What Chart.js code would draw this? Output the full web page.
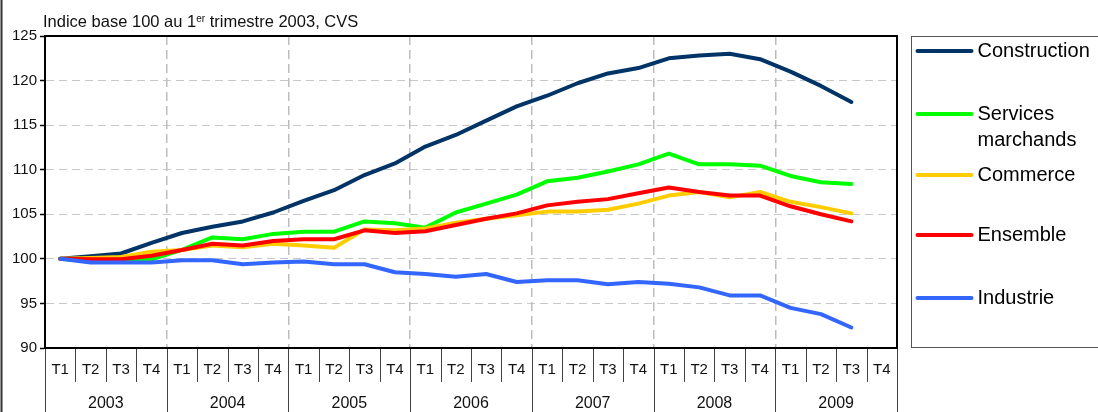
<!DOCTYPE html>
<html lang="fr">
<head>
<meta charset="UTF-8">
<title>Indice base 100 au 1er trimestre 2003</title>
<script src="https://cdn.jsdelivr.net/npm/chart.js@4.4.1/dist/chart.umd.min.js"></script>
<style>
    html, body { margin: 0; padding: 0; background: #fff; }
    canvas { display: block; }
</style>
</head>
<body>
<canvas id="chart" width="1098" height="412"></canvas>
<script>
// Données
const years = ['2003', '2004', '2005', '2006', '2007', '2008', '2009'];
const quarters = ['T1', 'T2', 'T3', 'T4'];
const quarterLabels = years.flatMap(() => quarters);

const yTicks = [90, 95, 100, 105, 110, 115, 120, 125];

const construction = [100, 100.3, 100.6, 101.8, 102.9, 103.6, 104.2, 105.2,
    106.5, 107.7, 109.4, 110.7, 112.6, 113.9, 115.5, 117.1,
    118.3, 119.7, 120.8, 121.4, 122.5, 122.8, 123.0, 122.4,
    121.0, 119.4, 117.6];
const services = [100, 99.8, 99.85, 99.95, 101.0, 102.4, 102.2, 102.8,
    103.05, 103.05, 104.2, 104.0, 103.5, 105.2, 106.2, 107.2,
    108.7, 109.1, 109.8, 110.6, 111.8, 110.6, 110.6, 110.45,
    109.3, 108.6, 108.4];
const commerce = [100, 100.1, 100.2, 100.8, 101.0, 101.5, 101.3, 101.7,
    101.5, 101.25, 103.3, 103.2, 103.4, 104.05, 104.5, 104.9,
    105.3, 105.3, 105.5, 106.2, 107.1, 107.5, 106.9, 107.5,
    106.4, 105.8, 105.1];
const ensemble = [100, 99.95, 99.95, 100.35, 101.0, 101.7, 101.5, 102.0,
    102.2, 102.2, 103.2, 102.9, 103.1, 103.8, 104.5, 105.1,
    106.0, 106.4, 106.7, 107.35, 108.0, 107.5, 107.1, 107.1,
    105.9, 105.0, 104.2];
const industrie = [100, 99.6, 99.6, 99.6, 99.85, 99.85, 99.4, 99.6,
    99.7, 99.4, 99.4, 98.5, 98.3, 98.0, 98.3, 97.4,
    97.6, 97.6, 97.15, 97.4, 97.2, 96.8, 95.9, 95.9,
    94.5, 93.8, 92.3];

const seriesNames = ['Construction', 'Services marchands', 'Commerce', 'Ensemble', 'Industrie'];
const seriesData = [construction, services, commerce, ensemble, industrie];
const seriesColors = ['#003366', '#00ff00', '#ffcc00', '#ff0000', '#3366ff'];

const FONT = "'Liberation Sans', Arial, sans-serif";
Chart.defaults.font.family = FONT;
Chart.defaults.color = '#111';

// titre avec exposant
const titlePlugin = {
    id: 'titre',
    afterDraw(chart) {
        const ctx = chart.ctx;
        const x0 = chart.chartArea.left - 2;
        const y0 = 27;
        ctx.save();
        ctx.fillStyle = '#111';
        ctx.textBaseline = 'alphabetic';
        ctx.font = '16.5px ' + FONT;
        let x = x0;
        ctx.fillText('Indice base 100 au 1', x, y0);
        x += ctx.measureText('Indice base 100 au 1').width;
        ctx.font = '10px ' + FONT;
        ctx.fillText('er', x, y0 - 5);
        x += ctx.measureText('er').width;
        ctx.font = '16.5px ' + FONT;
        ctx.fillText(' trimestre 2003, CVS', x, y0);
        ctx.restore();
    }
};

// cadre, séparateurs de l'axe et légende
const framePlugin = {
    id: 'cadre',
    afterDraw(chart) {
        const {ctx, chartArea: a, height} = chart;
        const n = quarterLabels.length;
        const step = (a.right - a.left) / n;
        ctx.save();

        ctx.strokeStyle = '#404040';
        ctx.lineWidth = 1;
        for (let i = 0; i <= n; i++) {
            const x = Math.round(a.left + i * step) + 0.5;
            ctx.beginPath();
            ctx.moveTo(x, a.bottom);
            ctx.lineTo(x, i % 4 === 0 ? height : a.bottom + 34);
            ctx.stroke();
        }

        ctx.strokeStyle = '#000';
        ctx.lineWidth = 2;
        ctx.strokeRect(a.left, a.top, a.right - a.left, a.bottom - a.top);

        ctx.strokeStyle = '#333';
        ctx.beginPath();
        ctx.moveTo(1.5, 0);
        ctx.lineTo(1.5, height);
        ctx.stroke();

        // légende
        const lx = a.right + 14.5;
        ctx.strokeStyle = '#555';
        ctx.lineWidth = 1;
        ctx.strokeRect(lx, a.top + 0.5, chart.width - lx + 5, a.bottom - a.top - 1);

        const rowY = [51, 114, 175, 235, 298];
        const textX = lx + 66;
        const maxW = chart.width - textX - 2;
        ctx.font = '20px ' + FONT;
        ctx.fillStyle = '#000';
        ctx.textBaseline = 'middle';
        chart.data.datasets.forEach((ds, k) => {
            const y = rowY[k];
            ctx.strokeStyle = ds.borderColor;
            ctx.lineWidth = 4;
            ctx.lineCap = 'round';
            ctx.beginPath();
            ctx.moveTo(lx + 6, y);
            ctx.lineTo(lx + 60, y);
            ctx.stroke();
            // retour à la ligne simple
            const words = ds.label.split(' ');
            const lines = [];
            let cur = '';
            words.forEach(w => {
                const t = cur ? cur + ' ' + w : w;
                if (cur && ctx.measureText(t).width > maxW) {
                    lines.push(cur);
                    cur = w;
                } else {
                    cur = t;
                }
            });
            lines.push(cur);
            lines.forEach((l, j) => ctx.fillText(l, textX, y + j * 26));
        });
        ctx.restore();
    }
};

new Chart(document.getElementById('chart').getContext('2d'), {
    type: 'line',
    data: {
        labels: quarterLabels,
        datasets: seriesNames.map((name, k) => ({
            label: name,
            data: seriesData[k],
            borderColor: seriesColors[k],
            backgroundColor: seriesColors[k],
            borderWidth: 4,
            borderCapStyle: 'round',
            borderJoinStyle: 'round',
            pointRadius: 0,
            tension: 0,
            order: seriesNames.length - 1 - k
        }))
    },
    options: {
        responsive: false,
        animation: false,
        layout: { padding: { left: 0, right: 201, top: 36, bottom: 0 } },
        plugins: {
            legend: { display: false },
            tooltip: { enabled: false }
        },
        scales: {
            y: {
                min: 90,
                max: 125,
                afterBuildTicks: s => { s.ticks = yTicks.map(v => ({ value: v })); },
                afterFit: s => { s.width = 45; },
                ticks: { padding: 3, font: { size: 15 }, color: '#111' },
                grid: {
                    color: '#c8c8c8',
                    lineWidth: 1,
                    tickColor: '#000',
                    tickLength: 5,
                    tickWidth: 1.5
                },
                border: { color: '#000', width: 2, dash: [8, 5] }
            },
            x: {
                offset: true,
                afterFit: s => { s.height = 34; },
                ticks: { autoSkip: false, maxRotation: 0, padding: 13, font: { size: 15 }, color: '#111' },
                grid: { display: false, drawTicks: false, offset: true },
                border: { color: '#000', width: 2 }
            },
            x2: {
                type: 'category',
                position: 'bottom',
                labels: years,
                offset: true,
                afterFit: s => { s.height = 30; },
                ticks: { autoSkip: false, maxRotation: 0, padding: 12, font: { size: 16 }, color: '#111' },
                grid: {
                    drawTicks: false,
                    drawOnChartArea: true,
                    offset: true,
                    color: '#bdbdbd',
                    lineWidth: 1.5
                },
                border: { display: false, dash: [9, 5] }
            }
        }
    },
    plugins: [titlePlugin, framePlugin]
});
</script>
</body>
</html>
